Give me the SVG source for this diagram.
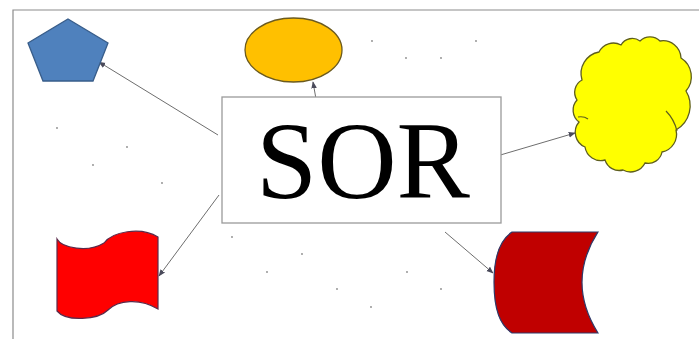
<svg xmlns="http://www.w3.org/2000/svg" width="699" height="339" viewBox="0 0 699 339">
<style>
.conn{stroke:#6e6e6e;stroke-width:1;fill:none;marker-end:url(#ah)}
.dot{fill:#8a8a8a}
.frame{stroke:#8c8c8c;stroke-width:1.2;fill:none}
</style>
<defs>
<marker id="ah" viewBox="0 0 10 10" refX="9" refY="5" markerWidth="7" markerHeight="7" orient="auto" markerUnits="userSpaceOnUse">
<path d="M0,1 L10,5 L0,9 Z" fill="#4a4a5a"/>
</marker>
</defs>
<rect width="699" height="339" fill="#ffffff"/>
<path class="frame" d="M13,339 L13,10 L699,10"/>
<g id="dots">
<circle class="dot" cx="57" cy="128" r="0.9"/>
<circle class="dot" cx="127" cy="147" r="0.9"/>
<circle class="dot" cx="93" cy="165" r="0.9"/>
<circle class="dot" cx="162" cy="183" r="0.9"/>
<circle class="dot" cx="372" cy="41" r="0.9"/>
<circle class="dot" cx="406" cy="58" r="0.9"/>
<circle class="dot" cx="441" cy="58" r="0.9"/>
<circle class="dot" cx="476" cy="41" r="0.9"/>
<circle class="dot" cx="232" cy="237" r="0.9"/>
<circle class="dot" cx="302" cy="254" r="0.9"/>
<circle class="dot" cx="267" cy="272" r="0.9"/>
<circle class="dot" cx="337" cy="289" r="0.9"/>
<circle class="dot" cx="371" cy="307" r="0.9"/>
<circle class="dot" cx="407" cy="272" r="0.9"/>
<circle class="dot" cx="441" cy="289" r="0.9"/>
</g>
<g id="connectors">
<line class="conn" x1="218" y1="135" x2="99" y2="62"/>
<line class="conn" x1="316" y1="99" x2="313" y2="82"/>
<line class="conn" x1="497" y1="156" x2="575" y2="133"/>
<line class="conn" x1="219" y1="195" x2="159" y2="276"/>
<line class="conn" x1="445" y1="232" x2="493" y2="273"/>
</g>
<g id="center">
<rect x="222" y="97" width="279" height="126" fill="#ffffff" stroke="#9a9a9a" stroke-width="1.3"/>
<text x="363" y="198" font-family="'Liberation Serif','Times New Roman',serif" font-size="110" text-anchor="middle" fill="#000000">SOR</text>
</g>
<g id="pentagon">
<polygon points="68,19 108,43 93,81 43,81 28,43" fill="#4f81bd" stroke="#385d8a" stroke-width="1.3"/>
</g>
<g id="ellipse">
<ellipse cx="293.5" cy="50" rx="48.5" ry="32" fill="#ffc000" stroke="#6b5a1e" stroke-width="1.3"/>
</g>
<g id="cloud">
<path d="M582,80 A22 22 0 0 1 599,52 A16 16 0 0 1 621,45 A13 13 0 0 1 640,41 A14 14 0 0 1 660,41 A18 18 0 0 1 681,58 A22 22 0 0 1 686,91 A28 28 0 0 1 676,130 A18 18 0 0 1 662,152 A14 14 0 0 1 645,163 A16 16 0 0 1 623,170 A15 15 0 0 1 605,160 A16 16 0 0 1 585,147 A16 16 0 0 1 579,122 A15 15 0 0 1 577,100 A14 14 0 0 1 582,80 Z" fill="#ffff00" stroke="#5e5e1e" stroke-width="1.3"/>
<path d="M666,111 Q674,119 677,131" fill="none" stroke="#5e5e1e" stroke-width="1.2"/>
<path d="M578,117 Q584,116 588,119" fill="none" stroke="#5e5e1e" stroke-width="1.2"/>
</g>
<g id="flag">
<path d="M57,239 C62,248 88,253 104,243 C112,232 140,226 158,237 L158,309 C140,298 118,300 108,310 C98,320 66,322 57,311 Z" fill="#ff0000" stroke="#5a2a4a" stroke-width="1.2"/>
</g>
<g id="curved">
<path d="M512,232 L598,232 Q566,282 598,333 L512,333 C500,325 494,310 494,282 C494,255 500,240 512,232 Z" fill="#c00000" stroke="#2e3a6a" stroke-width="1.2"/>
</g>
</svg>
